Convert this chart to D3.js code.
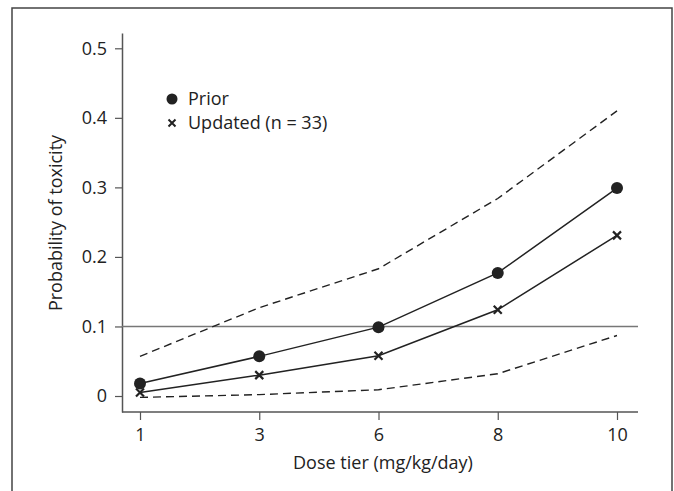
<!DOCTYPE html>
<html>
<head>
<meta charset="utf-8">
<script src="https://cdn.jsdelivr.net/npm/d3@7"></script>
<style>
  body { margin: 0; background: #fff; }
  text { font-family: "Open Sans", sans-serif; fill: #222; }
</style>
</head>
<body>
<svg id="chart" width="674" height="491"></svg>
<script>
// Data
const doses = ["1", "3", "6", "8", "10"];
const prior = [0.018, 0.057, 0.099, 0.177, 0.299];
const updated = [0.005, 0.030, 0.058, 0.124, 0.231];
const upper = [0.057, 0.127, 0.183, 0.284, 0.41];
const lower = [-0.002, 0.002, 0.009, 0.032, 0.087];
const yTicks = [0, 0.1, 0.2, 0.3, 0.4, 0.5];
const target = 0.1;

const svg = d3.select("#chart");
const width = +svg.attr("width");
const height = +svg.attr("height");
const fontSize = 18;

// outer frame
svg.append("rect")
  .attr("x", 12).attr("y", 8)
  .attr("width", 660).attr("height", 500)
  .attr("fill", "none")
  .attr("stroke", "#444")
  .attr("stroke-width", 1.5);

const plot = { left: 122, right: 638, top: 33, bottom: 412 };

const xScale = d3.scalePoint()
  .domain(doses)
  .range([140, 617]);

const yScale = d3.scaleLinear()
  .domain([-0.023, 0.522])
  .range([plot.bottom, plot.top]);

const g = svg.append("g");

// y axis
const yAxisG = g.append("g")
  .attr("transform", `translate(${plot.left},0)`)
  .call(d3.axisLeft(yScale).tickValues(yTicks)
    .tickFormat((d) => (d === 0 ? "0" : d3.format(".1f")(d)))
    .tickSize(7).tickPadding(8).tickSizeOuter(0));
yAxisG.select(".domain").attr("stroke", "#555").attr("stroke-width", 1.5);
yAxisG.selectAll(".tick line").attr("stroke", "#555").attr("stroke-width", 1.2);
yAxisG.selectAll(".tick text").attr("font-size", fontSize).attr("fill", "#222")
  .attr("font-family", "Open Sans, sans-serif");

// x axis
const xAxisG = g.append("g")
  .attr("transform", `translate(0,${plot.bottom})`)
  .call(d3.axisBottom(xScale).tickSize(8).tickPadding(8).tickSizeOuter(0));
xAxisG.select(".domain")
  .attr("d", `M${plot.left},0H${plot.right}`)
  .attr("stroke", "#555").attr("stroke-width", 1.5);
xAxisG.selectAll(".tick line").attr("stroke", "#555").attr("stroke-width", 1.2);
xAxisG.selectAll(".tick text").attr("font-size", fontSize).attr("fill", "#222")
  .attr("font-family", "Open Sans, sans-serif");

// axis titles
g.append("text")
  .attr("x", 383)
  .attr("y", 469)
  .attr("text-anchor", "middle")
  .attr("font-size", fontSize)
  .text("Dose tier (mg/kg/day)");

g.append("text")
  .attr("transform", `translate(62,${223}) rotate(-90)`)
  .attr("text-anchor", "middle")
  .attr("font-size", fontSize)
  .text("Probability of toxicity");

// target line
g.append("line")
  .attr("x1", plot.left).attr("x2", plot.right)
  .attr("y1", yScale(target)).attr("y2", yScale(target))
  .attr("stroke", "#777").attr("stroke-width", 1.5);

const line = d3.line()
  .x((d, i) => xScale(doses[i]))
  .y((d) => yScale(d));

// credible bounds
[upper, lower].forEach((arr) => {
  g.append("path")
    .attr("d", line(arr))
    .attr("fill", "none")
    .attr("stroke", "#222")
    .attr("stroke-width", 1.4)
    .attr("stroke-dasharray", "8,5");
});

// prior and updated lines
[prior, updated].forEach((arr) => {
  g.append("path")
    .attr("d", line(arr))
    .attr("fill", "none")
    .attr("stroke", "#222")
    .attr("stroke-width", 1.5);
});

g.selectAll("circle.prior")
  .data(prior)
  .enter()
  .append("circle")
  .attr("class", "prior")
  .attr("cx", (d, i) => xScale(doses[i]))
  .attr("cy", (d) => yScale(d))
  .attr("r", 6)
  .attr("fill", "#222");

const cross = (x, y, s) => `M${x - s},${y - s}L${x + s},${y + s}M${x - s},${y + s}L${x + s},${y - s}`;

g.selectAll("path.upd")
  .data(updated)
  .enter()
  .append("path")
  .attr("class", "upd")
  .attr("d", (d, i) => cross(xScale(doses[i]), yScale(d), 4))
  .attr("stroke", "#222")
  .attr("stroke-width", 2.2);

// legend
const legend = g.append("g");
legend.append("circle").attr("cx", 172).attr("cy", 99).attr("r", 5.5).attr("fill", "#222");
legend.append("text").attr("x", 188).attr("y", 105).attr("font-size", fontSize).text("Prior");
legend.append("path").attr("d", cross(172, 123, 3.5)).attr("stroke", "#222").attr("stroke-width", 2);
legend.append("text").attr("x", 188).attr("y", 129).attr("font-size", fontSize).text("Updated (n = 33)");
</script>
</body>
</html>
